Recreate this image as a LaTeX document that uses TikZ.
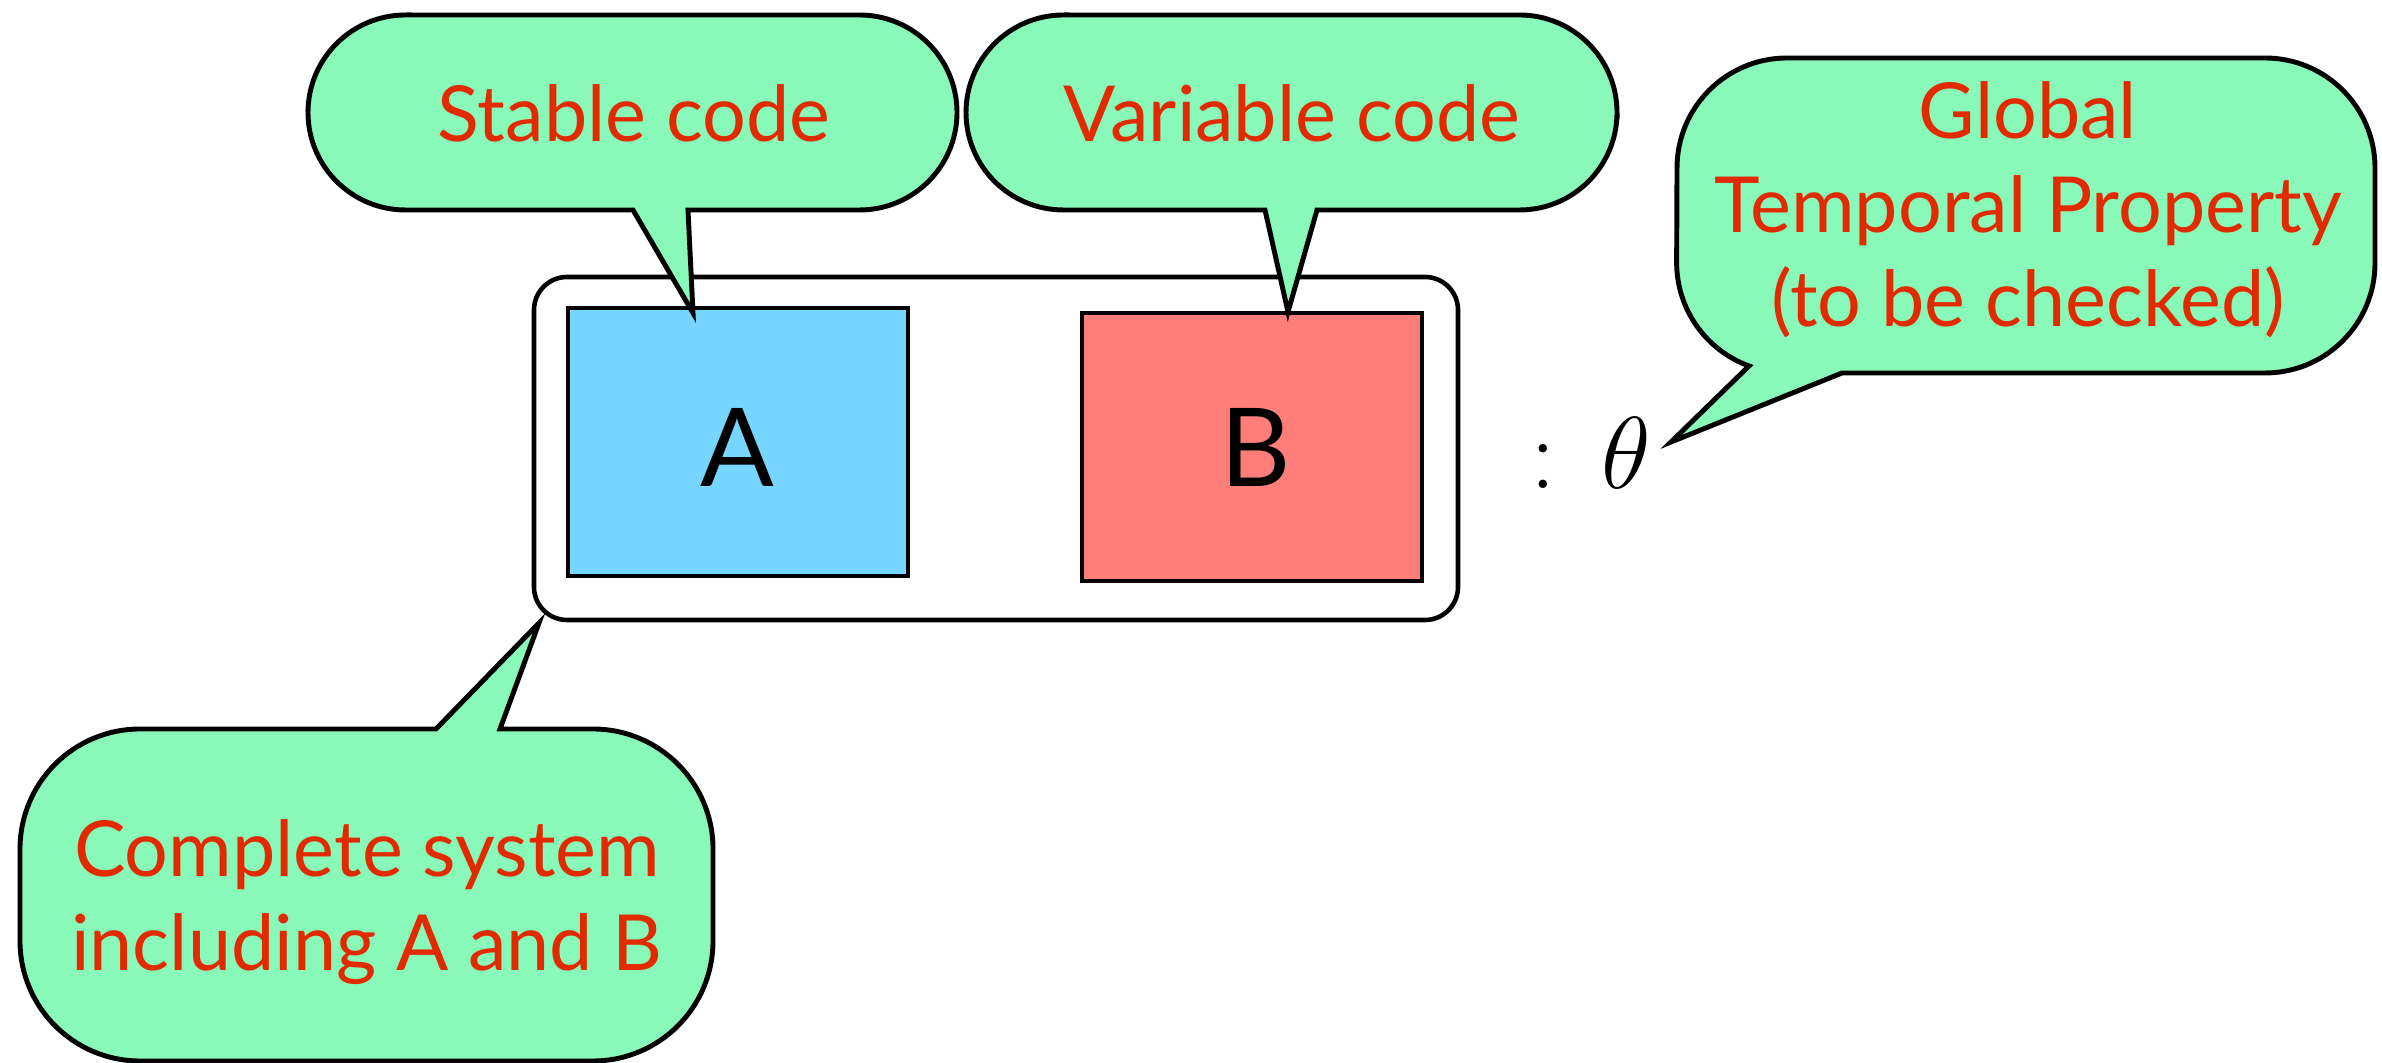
\documentclass[tikz,border=0pt]{standalone}
\usepackage{fontspec}
\newfontfamily\calloutfont{Lato}

\definecolor{calloutgreen}{RGB}{136,249,184}
\definecolor{calloutred}{RGB}{226,42,0}
\definecolor{stableblue}{RGB}{118,214,255}
\definecolor{variablered}{RGB}{255,126,121}

\begin{document}
\begin{tikzpicture}[
        callout/.style={fill=calloutgreen, draw=black, line width=1.4pt},
        calloutlabel/.style={text=calloutred, align=center, inner sep=0pt,
            font=\calloutfont\fontsize{22}{26.7}\selectfont},
        part/.style={draw=black, line width=1.4pt, inner sep=0pt,
            minimum width=3.40cm, minimum height=2.68cm},
        partname/.style={inner sep=0pt, font=\calloutfont\fontsize{31}{36}\selectfont}]
        \useasboundingbox (0,0) rectangle (23.82,10.63);

        \node[draw=black, line width=1.3pt, rounded corners=0.33cm,
            minimum width=9.24cm, minimum height=3.43cm] (system) at (9.96,6.145) {};
        \node[part, fill=stableblue] (a) at (7.38,6.21) {};
        \node[part, fill=variablered] (b) at (12.52,6.16) {};
        \node[partname] (aname) at (7.37,6.16) {A};
        \node[partname] (bname) at (12.56,6.16) {B};
        \node[font=\fontsize{24.88}{30}\selectfont, scale=1.17, inner sep=0pt] (theta) at (15.91,6.10) {$:\,\theta$};

        \draw[callout] (4.055,10.48) -- (8.595,10.48) arc[start angle=90, end angle=0, radius=0.975]
            -- (9.57,9.505) arc[start angle=0, end angle=-90, radius=0.975]
            -- (6.88,8.53) -- (6.93,7.50) -- (6.33,8.53)
            -- (4.055,8.53) arc[start angle=270, end angle=180, radius=0.975]
            -- (3.08,9.505) arc[start angle=180, end angle=90, radius=0.975] -- cycle;
        \node[calloutlabel] (stable) at (6.34,9.50) {Stable code};

        \draw[callout] (10.635,10.48) -- (15.195,10.48) arc[start angle=90, end angle=0, radius=0.975]
            -- (16.17,9.505) arc[start angle=0, end angle=-90, radius=0.975]
            -- (13.17,8.53) -- (12.88,7.51) -- (12.65,8.53)
            -- (10.635,8.53) arc[start angle=270, end angle=180, radius=0.975]
            -- (9.66,9.505) arc[start angle=180, end angle=90, radius=0.975] -- cycle;
        \node[calloutlabel] (variable) at (12.92,9.50) {Variable code};

        \draw[callout] (17.87,10.05) -- (22.65,10.05) arc[start angle=90, end angle=0, radius=1.1]
            -- (23.75,8.00) arc[start angle=0, end angle=-90, radius=1.1]
            -- (18.42,6.90) -- (16.71,6.21) -- (17.49,6.97)
            arc[start angle=250, end angle=180, radius=1.1]
            -- (16.77,8.95) arc[start angle=180, end angle=90, radius=1.1] -- cycle;
        \node[calloutlabel] (global) at (20.28,8.53) {Global\\Temporal Property\\(to be checked)};

        \draw[callout] (1.40,3.34) -- (4.36,3.34) -- (5.39,4.40) -- (5.00,3.34)
            -- (5.93,3.34) arc[start angle=90, end angle=0, radius=1.2]
            -- (7.13,1.22) arc[start angle=0, end angle=-90, radius=1.2]
            -- (1.40,0.02) arc[start angle=270, end angle=180, radius=1.2]
            -- (0.20,2.14) arc[start angle=180, end angle=90, radius=1.2] -- cycle;
        \node[calloutlabel] (complete) at (3.67,1.61) {Complete system\\including A and B};
    \end{tikzpicture}
\end{document}
